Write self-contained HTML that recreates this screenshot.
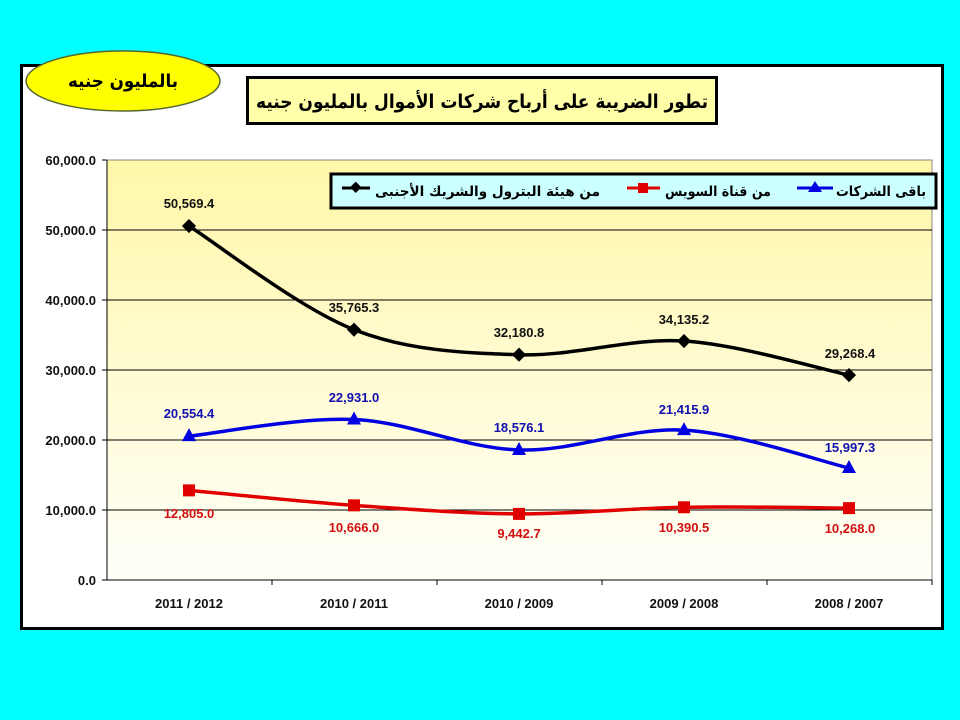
<!DOCTYPE html>
<html><head><meta charset="utf-8">
<style>
html,body{margin:0;padding:0;background:#00FFFF;}
svg{display:block;}
text{font-family:"Liberation Sans","DejaVu Sans",sans-serif;}
</style></head><body>
<svg id="s" width="960" height="720" xmlns="http://www.w3.org/2000/svg">
<defs>
<linearGradient id="g" x1="0" y1="0" x2="0" y2="1">
<stop offset="0" stop-color="#FFF7A8"/><stop offset="1" stop-color="#FFFFFA"/>
</linearGradient>
</defs>
<rect width="960" height="720" fill="#00FFFF"/>
<rect x="21.5" y="65.5" width="921" height="563" fill="#fff" stroke="#000" stroke-width="3"/>
<rect x="107" y="160" width="825" height="420" fill="url(#g)" stroke="#888" stroke-width="1"/>
<g stroke="#000" stroke-width="1">
<line x1="107" y1="230" x2="932" y2="230"/>
<line x1="107" y1="300" x2="932" y2="300"/>
<line x1="107" y1="370" x2="932" y2="370"/>
<line x1="107" y1="440" x2="932" y2="440"/>
<line x1="107" y1="510" x2="932" y2="510"/>
<line x1="107" y1="160" x2="107" y2="580"/>
<line x1="102" y1="580" x2="932" y2="580"/>
<line x1="102" y1="160" x2="107" y2="160"/><line x1="102" y1="230" x2="107" y2="230"/><line x1="102" y1="300" x2="107" y2="300"/><line x1="102" y1="370" x2="107" y2="370"/><line x1="102" y1="440" x2="107" y2="440"/><line x1="102" y1="510" x2="107" y2="510"/>
<line x1="272" y1="580" x2="272" y2="585"/><line x1="437" y1="580" x2="437" y2="585"/><line x1="602" y1="580" x2="602" y2="585"/><line x1="767" y1="580" x2="767" y2="585"/><line x1="932" y1="580" x2="932" y2="585"/>
</g>
<g font-size="13" font-weight="bold" fill="#111" text-anchor="end">
<text x="96" y="165">60,000.0</text><text x="96" y="235">50,000.0</text><text x="96" y="305">40,000.0</text>
<text x="96" y="375">30,000.0</text><text x="96" y="445">20,000.0</text><text x="96" y="515">10,000.0</text><text x="96" y="585">0.0</text>
</g>
<g font-size="13" font-weight="bold" fill="#111" text-anchor="middle">
<text x="189" y="608">2011 / 2012</text><text x="354" y="608">2010  / 2011</text><text x="519" y="608">2010 / 2009</text>
<text x="684" y="608">2009 / 2008</text><text x="849" y="608">2008 / 2007</text>
</g>
<g id="lines"></g>
<g font-size="13" font-weight="bold" text-anchor="middle">
<g fill="#111"><text x="189" y="208">50,569.4</text><text x="354" y="312">35,765.3</text><text x="519" y="337">32,180.8</text><text x="684" y="324">34,135.2</text><text x="850" y="358">29,268.4</text></g>
<g fill="#1010B0"><text x="189" y="418">20,554.4</text><text x="354" y="402">22,931.0</text><text x="519" y="432">18,576.1</text><text x="684" y="414">21,415.9</text><text x="850" y="452">15,997.3</text></g>
<g fill="#D01010"><text x="189" y="518">12,805.0</text><text x="354" y="532">10,666.0</text><text x="519" y="538">9,442.7</text><text x="684" y="532">10,390.5</text><text x="850" y="533">10,268.0</text></g>
</g>
<rect x="331" y="174" width="605" height="34" fill="#CCFFFF" stroke="#000" stroke-width="3"/>
<g font-size="14" font-weight="bold" fill="#000" text-anchor="end">
<text x="600" y="196" style="font-family:'DejaVu Sans',sans-serif" textLength="225" lengthAdjust="spacingAndGlyphs">من هيئة البترول والشريك الأجنبى</text>
<text x="771" y="196" style="font-family:'DejaVu Sans',sans-serif" textLength="106" lengthAdjust="spacingAndGlyphs">من قناة السويس</text>
<text x="926" y="196" style="font-family:'DejaVu Sans',sans-serif" textLength="90" lengthAdjust="spacingAndGlyphs">باقى الشركات</text>
</g>
<line x1="342" y1="188" x2="370" y2="188" stroke="#000" stroke-width="3"/><rect x="351" y="183" width="8" height="8" transform="rotate(45 355 188)" fill="#000"/>
<line x1="627" y1="188" x2="660" y2="188" stroke="#E00000" stroke-width="3"/><rect x="638" y="183" width="10" height="10" fill="#E00000"/>
<line x1="797" y1="188" x2="833" y2="188" stroke="#0000E0" stroke-width="3"/><polygon points="815,181 822,192 808,192" fill="#0000E0"/>
<rect x="247.5" y="77.5" width="469" height="46" fill="#FFFFAA" stroke="#000" stroke-width="3"/>
<text x="482" y="108" font-size="19" font-weight="bold" text-anchor="middle" style="font-family:'DejaVu Sans',sans-serif" textLength="452" lengthAdjust="spacingAndGlyphs">تطور الضريبة على أرباح شركات الأموال بالمليون جنيه</text>
<ellipse cx="123" cy="81" rx="97" ry="30" fill="#FFFF00" stroke="#556633" stroke-width="1.5"/>
<text x="123" y="87" font-size="18" font-weight="bold" text-anchor="middle" style="font-family:'DejaVu Sans',sans-serif" textLength="110" lengthAdjust="spacingAndGlyphs">بالمليون جنيه</text>
</svg>
<script>
var xs=[189,354,519,684,849];
function y(v){return 580-v*0.007;}
var S=[
 {c:"#000",v:[50569.4,35765.3,32180.8,34135.2,29268.4],m:"d"},
 {c:"#0000E0",v:[20554.4,22931,18576.1,21415.9,15997.3],m:"t"},
 {c:"#E00000",v:[12805,10666,9442.7,10390.5,10268],m:"s"}];
var g=document.getElementById("lines"),h="";
S.forEach(function(s){
 var p=xs.map(function(x,i){return [x,y(s.v[i])];});
 var d="M"+p[0][0]+","+p[0][1];
 for(var i=0;i<p.length-1;i++){
  var p0=p[i-1]||p[i],p1=p[i],p2=p[i+1],p3=p[i+2]||p2,t=1/6;
  d+=" C"+(p1[0]+(p2[0]-p0[0])*t)+","+(p1[1]+(p2[1]-p0[1])*t)+" "+(p2[0]-(p3[0]-p1[0])*t)+","+(p2[1]-(p3[1]-p1[1])*t)+" "+p2[0]+","+p2[1];
 }
 h+='<path d="'+d+'" fill="none" stroke="'+s.c+'" stroke-width="3.5"/>';
 p.forEach(function(q){
  if(s.m=="d")h+='<rect x="'+(q[0]-5)+'" y="'+(q[1]-5)+'" width="10" height="10" fill="#000" transform="rotate(45 '+q[0]+' '+q[1]+')"/>';
  if(s.m=="s")h+='<rect x="'+(q[0]-6)+'" y="'+(q[1]-6)+'" width="12" height="12" fill="#E00000"/>';
  if(s.m=="t")h+='<polygon points="'+q[0]+','+(q[1]-8)+' '+(q[0]+7)+','+(q[1]+5)+' '+(q[0]-7)+','+(q[1]+5)+'" fill="#0000E0"/>';
 });
});
g.innerHTML=h;
</script>
</body></html>
